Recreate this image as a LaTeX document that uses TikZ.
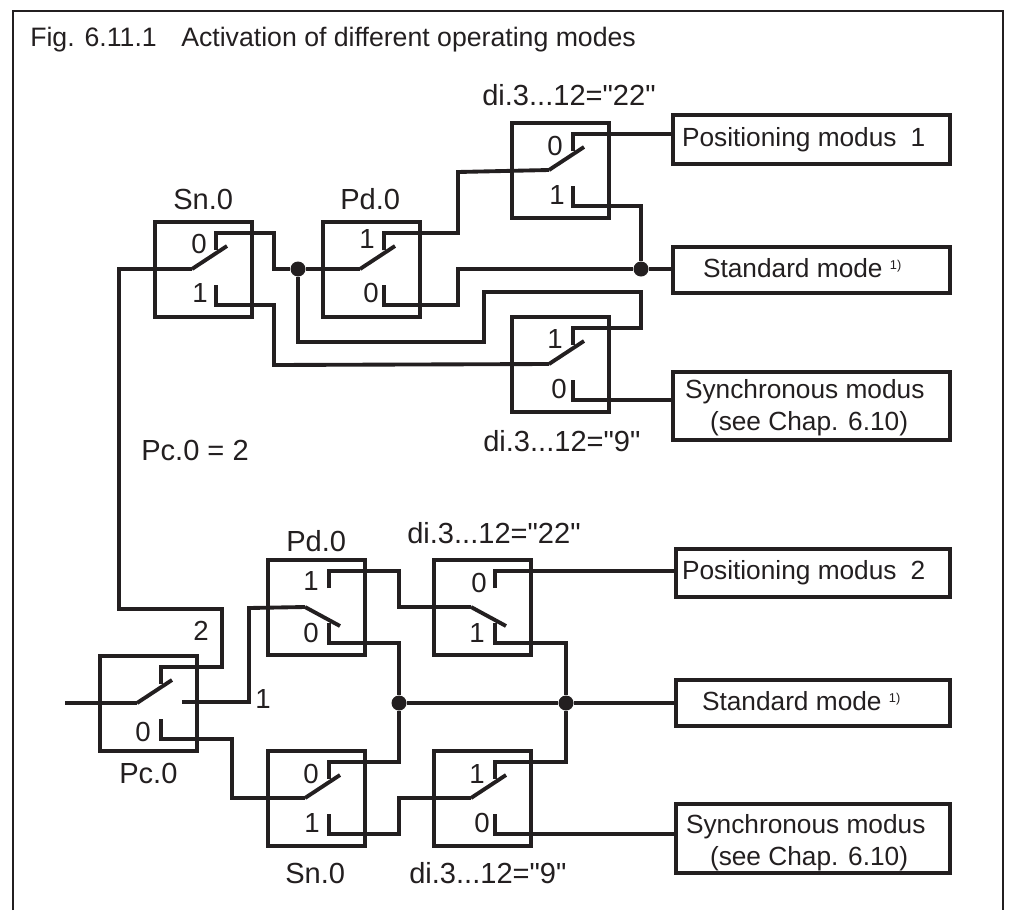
\documentclass[tikz,border=0pt]{standalone}
\usepackage{fontspec}
\setmainfont{Liberation Sans}
\newfontfamily\plainfont{Liberation Sans}
\definecolor{ink}{HTML}{231F20}
\newdimen\mypx \mypx=.75pt
\newcommand\mtext[3]{\makebox[0pt][l]{\hspace*{#1\mypx}\raisebox{#2\mypx}[0pt][0pt]{#3}}}
\newcommand\qq{{\plainfont\symbol{34}}}
\newcommand\supone{\raisebox{5.4pt}{\fontsize{9.6}{11}\selectfont 1)}}
\tikzset{
  x=.75pt, y=-.75pt,
  frameline/.style={draw=ink, line width=2.1pt},
  swbox/.style={draw=ink, line width=3pt, minimum width=97\mypx, minimum height=95\mypx, inner sep=0pt, outer sep=0pt},
  modebox/.style={draw=ink, line width=3pt, inner sep=0pt, outer sep=0pt, text=ink, font=\fontsize{19.7}{22}\selectfont},
  wire/.style={draw=ink, line width=2.9pt, line join=miter},
  blade/.style={draw=ink, line width=2.9pt},
  dotnode/.style={circle, fill=ink, minimum size=15\mypx, inner sep=0pt},
  txt/.style={anchor=base west, inner sep=0pt, text=ink, font=\fontsize{21.8}{24}\selectfont},
  titletxt/.style={txt, font=\fontsize{20}{22}\selectfont},
  digit/.style={txt, font=\fontsize{20.7}{22}\selectfont},
  digitr/.style={digit, anchor=base east},
}
% switch box: name, left x, top y; blade up or down; two contact stubs
\newcommand\swcore[3]{%
  \node[swbox, anchor=north west] (#1) at (#2,#3) {};
  \coordinate (#1k) at (#2+37,#3+47);
  \coordinate (#1ts) at (#2+61,#3+28);
  \coordinate (#1t) at (#2+61,#3+11);
  \coordinate (#1bs) at (#2+61,#3+63);
  \coordinate (#1b) at (#2+61,#3+83);
}
\newcommand\swup[3]{\swcore{#1}{#2}{#3}%
  \coordinate (#1tip) at (#2+72,#3+24);
  \draw[blade] (#1k) -- (#1tip);}
\newcommand\swdn[3]{\swcore{#1}{#2}{#3}%
  \coordinate (#1tip) at (#2+72,#3+66);
  \draw[blade] (#1k) -- (#1tip);}
\begin{document}
\begin{tikzpicture}
\useasboundingbox (0,0) rectangle (1009,910);
\fill[white] (0,0) rectangle (1009,910);

% frame (open at the bottom)
\coordinate (fbl) at (13,910); \coordinate (ftl) at (13,11);
\coordinate (ftr) at (1003,11); \coordinate (fbr) at (1003,910);
\draw[frameline] (fbl) -- (ftl) -- (ftr) -- (fbr);

\node[titletxt] (title) at (30,46) {Fig. 6.11.1};
\node[titletxt] (title2) at (181,46) {Activation of different operating modes};

% upper switches
\swup{us}{155}{222}
\swup{up}{323}{222}
\swup{ud}{512}{123}
\swup{un}{512}{317}
% lower switches
\swup{pc}{100}{656}
\swdn{lp}{268}{560}
\swup{ls}{268}{751}
\swdn{ld}{434}{560}
\swup{ln}{434}{751}

% output boxes
\node[modebox, minimum width=277\mypx, minimum height=49\mypx] (pos1) at (811.5,139.5)
  {\mtext{-129.5}{-6.5}{Positioning modus\hspace{.53em}1}};
\node[modebox, minimum width=277\mypx, minimum height=46\mypx] (std1) at (811.5,270)
  {\mtext{-108.5}{-7}{Standard mode \supone}};
\node[modebox, minimum width=277\mypx, minimum height=67.5\mypx] (syn1) at (811.5,405.75)
  {\mtext{-126.5}{7.75}{Synchronous modus}\mtext{-101.5}{-24.25}{(see Chap. 6.10)}};
\node[modebox, minimum width=274\mypx, minimum height=48\mypx] (pos2) at (813,573)
  {\mtext{-131}{-6}{Positioning modus\hspace{.53em}2}};
\node[modebox, minimum width=274\mypx, minimum height=46\mypx] (std2) at (813,703)
  {\mtext{-111}{-7}{Standard mode \supone}};
\node[modebox, minimum width=274\mypx, minimum height=69\mypx] (syn2) at (813,838.5)
  {\mtext{-127}{5.5}{Synchronous modus}\mtext{-103}{-26.5}{(see Chap. 6.10)}};

% junction dots
\node[dotnode] (j1) at (298,269) {};
\node[dotnode] (j2) at (641,269) {};
\node[dotnode] (j3) at (399,703) {};
\node[dotnode] (j4) at (566,703) {};

% upper wiring
\coordinate (inp) at (65,703);
\draw[wire] (inp) -- (pck);
\draw[wire] (pcts) -- (pct) -- (222,667) -- (222,609) -- (119,609) -- (119,269) -- (usk);
\draw[wire] (usts) -- (ust) -- (274,233) -- (274,269) -- (j1) -- (upk);
\draw[wire] (usbs) -- (usb) -- (274,305) -- (274,365) -- (unk);
\draw[wire] (upts) -- (upt) -- (458,233) -- (458,172) -- (udk);
\draw[wire] (upbs) -- (upb) -- (458,305) -- (458,269) -- (j2) -- (std1.west |- j2);
\draw[wire] (j1) -- (298,342) -- (484,342) -- (484,292) -- (641,292) -- (641,328) -- (unt) -- (unts);
\draw[wire] (udts) -- (udt) -- (pos1.west |- udt);
\draw[wire] (udbs) -- (udb) -- (641,206) -- (j2);
\draw[wire] (unbs) -- (unb) -- (syn1.west |- unb);

% lower wiring
\coordinate (pcm) at (182,702);
\draw[wire] (pcm) -- (249,702) -- (249,608) -- (lpk);
\draw[wire] (pcbs) -- (pcb) -- (232,739) -- (232,798) -- (lsk);
\draw[wire] (lpts) -- (lpt) -- (399,571) -- (399,607) -- (ldk);
\draw[wire] (lpbs) -- (lpb) -- (399,643) -- (j3);
\draw[wire] (j3) -- (399,762) -- (lst) -- (lsts);
\draw[wire] (lsbs) -- (lsb) -- (399,834) -- (399,798) -- (lnk);
\draw[wire] (j3) -- (j4) -- (std2.west |- j4);
\draw[wire] (ldts) -- (ldt) -- (pos2.west |- ldt);
\draw[wire] (ldbs) -- (ldb) -- (566,643) -- (j4);
\draw[wire] (j4) -- (566,762) -- (lnt) -- (lnts);
\draw[wire] (lnbs) -- (lnb) -- (syn2.west |- lnb);

% labels upper
\node[txt] (a1) at (482,105) {di.3...12=\qq 22\qq};
\node[txt] (a2) at (173,209) {Sn.0};
\node[txt] (a3) at (340,209) {Pd.0};
\node[txt] (a4) at (483,451) {di.3...12=\qq 9\qq};
\node[txt] (a5) at (141,460) {Pc.0 = 2};
\node[digit] (c1) at (191,253) {0};
\node[digitr] (c2) at (208,302) {1};
\node[digitr] (c3) at (375,248) {1};
\node[digit] (c4) at (363,302) {0};
\node[digit] (c5) at (547,155) {0};
\node[digitr] (c6) at (565,204) {1};
\node[digitr] (c7) at (563,348) {1};
\node[digit] (c8) at (551,398) {0};
% labels lower
\node[txt] (b1) at (286,551) {Pd.0};
\node[txt] (b2) at (407,543) {di.3...12=\qq 22\qq};
\node[digit] (b3) at (193,640) {2};
\node[digitr] (b4) at (271,708) {1};
\node[digit] (b5) at (135,741) {0};
\node[txt] (b6) at (119,783) {Pc.0};
\node[digitr] (b7) at (319,590) {1};
\node[digit] (b8) at (303,642) {0};
\node[digit] (b9) at (303,783) {0};
\node[digitr] (b10) at (320,832) {1};
\node[txt] (b11) at (285,883) {Sn.0};
\node[txt] (b12) at (409,883) {di.3...12=\qq 9\qq};
\node[digit] (b13) at (471,592) {0};
\node[digitr] (b14) at (485,642) {1};
\node[digitr] (b15) at (485,783) {1};
\node[digit] (b16) at (474,832) {0};
\end{tikzpicture}
\end{document}
